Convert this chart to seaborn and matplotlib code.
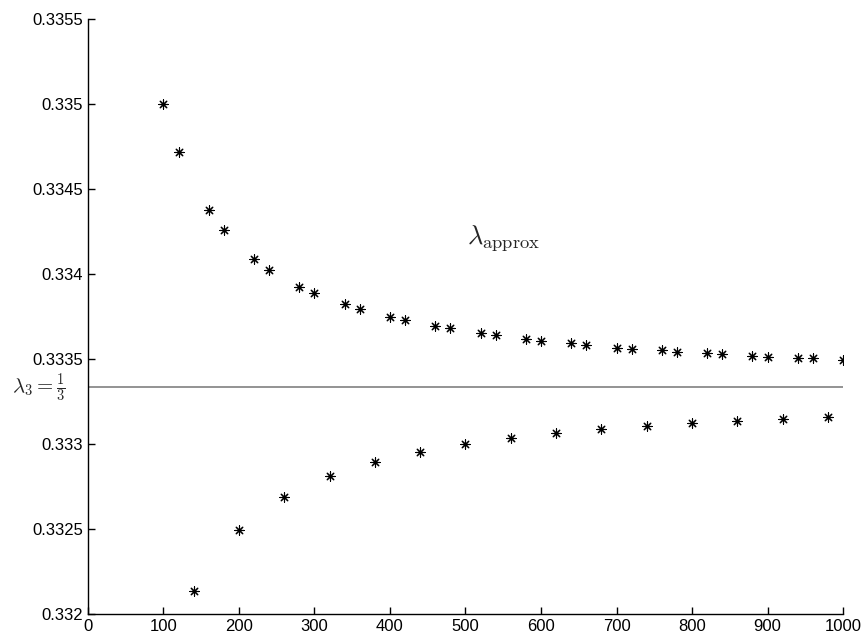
import matplotlib
matplotlib.use("Agg")
import matplotlib.pyplot as plt
import matplotlib.ticker as mticker
import matplotlib.transforms as mtransforms
import seaborn as sns

# upper branch of the approximations
upper_n = [100, 120, 160, 180, 220, 240, 280, 300, 340, 360, 400, 420, 460, 480,
           520, 540, 580, 600, 640, 660, 700, 720, 760, 780, 820, 840, 880, 900,
           940, 960, 1000]
upper_lam = [0.33500, 0.334719, 0.334375, 0.334257, 0.334090, 0.334025, 0.333925,
             0.333886, 0.333822, 0.333794, 0.333749, 0.333727, 0.333694, 0.333680,
             0.333651, 0.333639, 0.333618, 0.333608, 0.333592, 0.333584, 0.333567,
             0.333561, 0.333551, 0.333543, 0.333533, 0.333529, 0.333518, 0.333514,
             0.333506, 0.333504, 0.333496]

# lower branch
lower_n = [140, 200, 260, 320, 380, 440, 500, 560, 620, 680, 740, 800, 860, 920, 980]
lower_lam = [0.332137, 0.332494, 0.332686, 0.332812, 0.332892, 0.332953, 0.332998,
             0.333033, 0.333065, 0.333086, 0.333104, 0.333122, 0.333137, 0.333149,
             0.333161]

exact = 1 / 3

sns.set_style("ticks")
plt.rcParams['font.family'] = ['Liberation Sans', 'DejaVu Sans']
plt.rcParams['mathtext.fontset'] = 'cm'
plt.rcParams['xtick.direction'] = 'in'
plt.rcParams['ytick.direction'] = 'in'

fig = plt.figure(figsize=(8.65, 6.37), dpi=100)
ax = fig.add_axes([0.1017, 0.0361, 0.8729, 0.9341])

star = (8, 2, 0)
sns.scatterplot(x=upper_n, y=upper_lam, marker=star, s=45, color='k',
                edgecolor='k', linewidth=0.8, ax=ax, zorder=3)
sns.scatterplot(x=lower_n, y=lower_lam, marker=star, s=45, color='k',
                edgecolor='k', linewidth=0.8, ax=ax, zorder=3)
ax.axhline(exact, color='#808080', lw=1.2, zorder=2)

ax.set_xlim(0, 1000)
ax.set_ylim(0.332, 0.3355)
ax.xaxis.set_major_locator(mticker.MultipleLocator(100))
ax.yaxis.set_major_locator(mticker.MultipleLocator(0.0005))
ax.yaxis.set_major_formatter(mticker.FormatStrFormatter('%g'))
ax.tick_params(labelsize=12, length=5, width=1, colors='k')
sns.despine(ax=ax)
for s in ['left', 'bottom']:
    ax.spines[s].set_linewidth(1)
    ax.spines[s].set_color('k')

trans = mtransforms.blended_transform_factory(ax.transAxes, ax.transData)
ax.text(-0.03, exact, r'$\lambda_3 = \frac{1}{3}$', transform=trans,
        ha='right', va='center', fontsize=15)
ax.text(502, 0.33421, r'$\lambda_{\rm approx}$', fontsize=19, ha='left', va='center')

fig.savefig('out.png', dpi=100)
